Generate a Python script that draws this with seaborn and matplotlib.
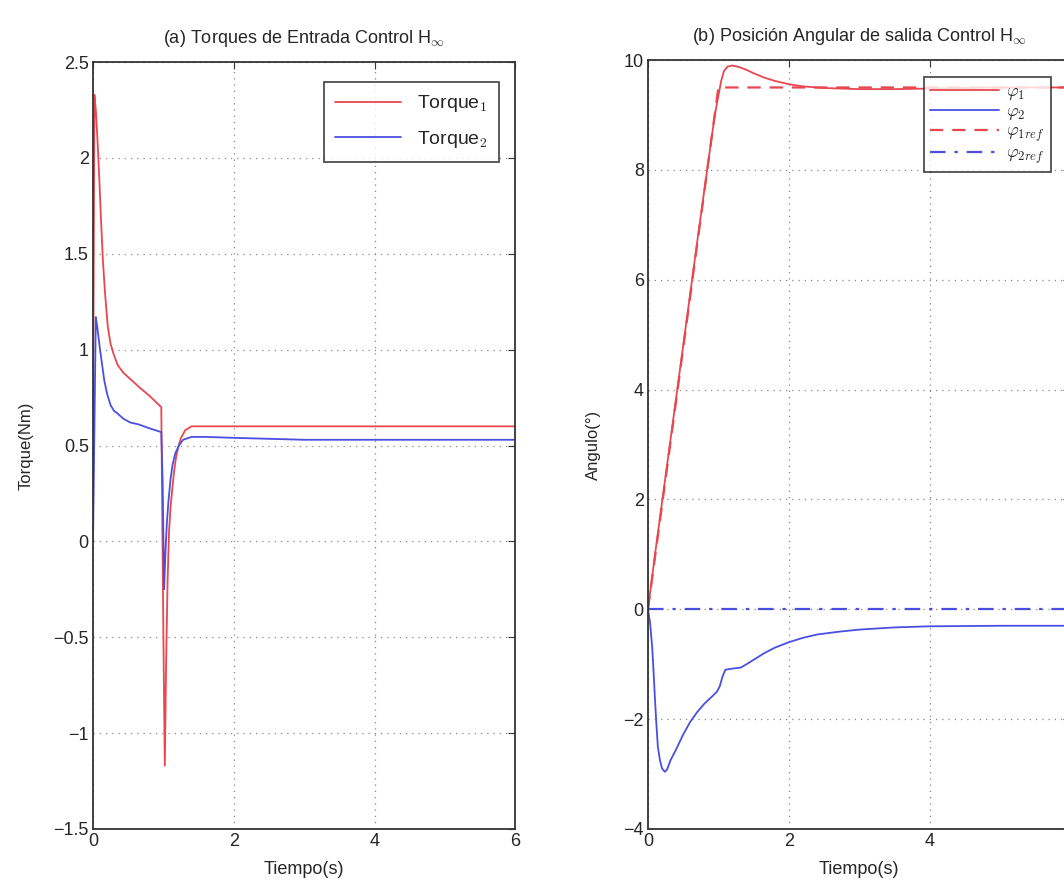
import numpy as np
import pandas as pd
import matplotlib
matplotlib.use("Agg")
import matplotlib.pyplot as plt
import seaborn as sns

# ---- data ----
t_tq1 = [0.0, 0.02, 0.04, 0.06, 0.085, 0.11, 0.14, 0.17, 0.21, 0.25, 0.29, 0.35, 0.43, 0.55, 0.67, 0.8, 0.97,
         1.0, 1.02, 1.04, 1.06, 1.08, 1.1, 1.12, 1.15, 1.18, 1.21, 1.25, 1.31, 1.4, 1.6, 2.0, 3.0, 4.0, 5.0, 6.0]
torque1 = [0.6, 2.33, 2.25, 2.12, 1.93, 1.71, 1.47, 1.3, 1.12, 1.03, 0.98, 0.92, 0.88, 0.84, 0.80, 0.76, 0.70,
           -0.5, -1.17, -0.6, -0.2, 0.05, 0.17, 0.25, 0.36, 0.44, 0.49, 0.54, 0.58, 0.6, 0.6, 0.6, 0.6, 0.6, 0.6, 0.6]
t_tq2 = [0.0, 0.04, 0.06, 0.08, 0.1, 0.13, 0.16, 0.2, 0.25, 0.3, 0.34, 0.43, 0.53, 0.65, 0.8, 0.97,
         0.99, 1.01, 1.03, 1.05, 1.07, 1.1, 1.13, 1.17, 1.22, 1.28, 1.4, 1.6, 2.0, 3.0, 4.0, 5.0, 6.0]
torque2 = [0.0, 1.17, 1.12, 1.06, 1.0, 0.92, 0.84, 0.77, 0.71, 0.68, 0.67, 0.64, 0.62, 0.61, 0.59, 0.57,
           0.3, -0.25, -0.05, 0.1, 0.2, 0.32, 0.4, 0.46, 0.5, 0.53, 0.545, 0.545, 0.54, 0.53, 0.53, 0.53, 0.53]

t_phi1 = [0.0, 0.1, 0.3, 0.5, 0.7, 0.9, 0.95, 1.0, 1.04, 1.08, 1.13, 1.2, 1.3, 1.4, 1.5, 1.65, 1.8, 2.0, 2.2,
          2.5, 3.0, 3.5, 4.0, 5.0, 6.0]
phi1 = [0.0, 1.0, 2.9, 4.8, 6.7, 8.55, 9.0, 9.35, 9.62, 9.8, 9.88, 9.9, 9.87, 9.82, 9.76, 9.68, 9.62, 9.56, 9.52,
        9.49, 9.47, 9.47, 9.48, 9.5, 9.5]
t_phi2 = [0.0, 0.03, 0.06, 0.08, 0.1, 0.12, 0.14, 0.17, 0.2, 0.24, 0.27, 0.32, 0.4, 0.5, 0.6, 0.7, 0.8, 0.9, 0.98,
          1.02, 1.06, 1.1, 1.2, 1.32, 1.4, 1.5, 1.65, 1.8, 2.0, 2.2, 2.4, 2.7, 3.0, 3.5, 4.0, 5.0, 6.0]
phi2 = [0.0, -0.25, -0.69, -1.15, -1.65, -2.1, -2.5, -2.75, -2.9, -2.96, -2.92, -2.75, -2.55, -2.28, -2.05, -1.87,
        -1.72, -1.6, -1.5, -1.4, -1.22, -1.1, -1.08, -1.06, -1.0, -0.92, -0.8, -0.7, -0.6, -0.52, -0.46, -0.41,
        -0.37, -0.33, -0.31, -0.3, -0.3]
t_ref1 = [0.0, 1.0, 6.0]
phi1_ref = [0.0, 9.5, 9.5]
t_ref2 = [0.0, 6.0]
phi2_ref = [0.0, 0.0]

RED = "#e8474f"
BLUE = "#4b4fe0"

sns.set_style("white")
plt.rcParams['font.family'] = ['Liberation Sans', 'DejaVu Sans']
plt.rcParams['mathtext.fontset'] = 'cm'

fig = plt.figure(figsize=(10.64, 8.89), dpi=100)
ax1 = fig.add_axes([0.0874, 0.0675, 0.397, 0.8627])
ax2 = fig.add_axes([0.609, 0.0675, 0.397, 0.865])

sns.lineplot(data=pd.DataFrame({"t": t_tq1, "v": torque1}), x="t", y="v", ax=ax1, color=RED, lw=1.3,
             label=r"Torque$_1$")
sns.lineplot(data=pd.DataFrame({"t": t_tq2, "v": torque2}), x="t", y="v", ax=ax1, color=BLUE, lw=1.3,
             label=r"Torque$_2$")

sns.lineplot(data=pd.DataFrame({"t": t_phi1, "v": phi1}), x="t", y="v", ax=ax2, color=RED, lw=1.3,
             label=r"$\varphi_1$")
sns.lineplot(data=pd.DataFrame({"t": t_phi2, "v": phi2}), x="t", y="v", ax=ax2, color=BLUE, lw=1.3,
             label=r"$\varphi_2$")
sns.lineplot(data=pd.DataFrame({"t": t_ref1, "v": phi1_ref}), x="t", y="v", ax=ax2, color=RED, lw=1.6,
             linestyle=(0, (6, 4)), label=r"$\varphi_{1ref}$")
sns.lineplot(data=pd.DataFrame({"t": t_ref2, "v": phi2_ref}), x="t", y="v", ax=ax2, color=BLUE, lw=1.6,
             linestyle=(0, (7, 4, 1.5, 4)), label=r"$\varphi_{2ref}$")

ax1.set_xlim(0, 6)
ax1.set_ylim(-1.5, 2.5)
ax1.set_xticks([0, 2, 4, 6])
ax1.set_yticks([-1.5, -1, -0.5, 0, 0.5, 1, 1.5, 2, 2.5])
ax1.set_yticklabels(["\u22121.5", "\u22121", "\u22120.5", "0", "0.5", "1", "1.5", "2", "2.5"])
ax2.set_xlim(0, 6)
ax2.set_ylim(-4, 10)
ax2.set_xticks([0, 2, 4, 6])
ax2.set_yticks([-4, -2, 0, 2, 4, 6, 8, 10])
ax2.set_yticklabels(["\u22124", "\u22122", "0", "2", "4", "6", "8", "10"])

for ax in (ax1, ax2):
    ax.grid(True, linestyle=(0, (1, 4)), color="#888888", lw=0.9)
    ax.tick_params(direction="in", top=True, right=True, length=5, labelsize=13, color="#333333", pad=3)
    for s in ax.spines.values():
        s.set_color("#333333")
        s.set_linewidth(1.3)
    ax.set_xlabel("Tiempo(s)", fontsize=13, labelpad=8)

ax1.set_ylabel("Torque(Nm)", fontsize=12, labelpad=14)
ax2.set_ylabel("Angulo(\u00b0)", fontsize=12, labelpad=16)

ax1.set_title(r"(a) Torques de Entrada Control H$_\infty$", fontsize=13, pad=14)
ax2.set_title(r"(b) Posición Angular de salida Control H$_\infty$", fontsize=13, pad=14)

leg1 = ax1.legend(loc="upper right", fontsize=14, handlelength=3.4, frameon=True, fancybox=False,
                  borderpad=0.6, labelspacing=0.75, bbox_to_anchor=(0.985, 0.987))
leg1.get_frame().set_edgecolor("#222222")
leg1.get_frame().set_linewidth(1.3)

leg2 = ax2.legend(loc="upper right", fontsize=13, handlelength=3.8, frameon=True, fancybox=False,
                  borderpad=0.35, labelspacing=0.05, handletextpad=0.4, bbox_to_anchor=(0.975, 0.99))
leg2.get_frame().set_edgecolor("#222222")
leg2.get_frame().set_linewidth(1.3)

fig.savefig("out.png", dpi=100)
